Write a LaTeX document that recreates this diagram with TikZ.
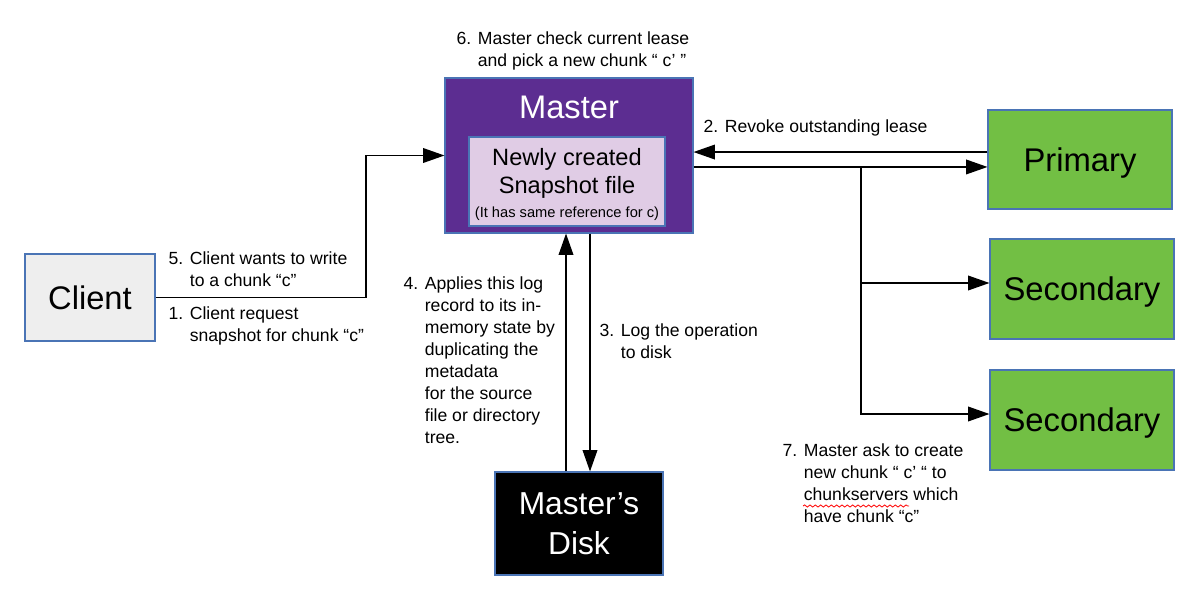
\documentclass[tikz,border=0pt]{standalone}
\usepackage{fontspec}
\setmainfont{Liberation Sans}
\usetikzlibrary{arrows.meta,decorations.pathmorphing}
\definecolor{masterpurple}{HTML}{5C2D91}
\definecolor{snaplilac}{HTML}{E0CCE5}
\definecolor{chunkgreen}{HTML}{72BF44}
\definecolor{clientgrey}{HTML}{EEEEEE}
\definecolor{edgeblue}{HTML}{4A74B5}
\begin{document}
\begin{tikzpicture}[x=0.75pt, y=-0.75pt, line width=1pt, >={Triangle[length=16pt,width=11pt]},
  box/.style={rectangle,draw=edgeblue,line width=0.8pt,inner sep=0pt},
  chunk box/.style={box,fill=chunkgreen,minimum width=138pt,minimum height=75pt,font=\fontsize{24.6}{30}\selectfont,text height=17.6pt,text depth=0pt},
  step text/.style={inner sep=0pt,anchor=north west,align=left,font=\fontsize{13.2}{16.5}\selectfont}]
\useasboundingbox (0,0) rectangle (1200,600);
\begin{scope}
\node[box,fill=masterpurple,minimum width=186pt,minimum height=116.25pt] (master) at (569,155.5) {};
\node[text=white,font=\fontsize{24.5}{30}\selectfont] (mastertitle) at (569,107) {Master};
\node[box,fill=snaplilac,minimum width=147pt,minimum height=66.75pt,align=center,font=\fontsize{17.7}{21}\selectfont] (snapshot) at (567,181.5) {\rule{0pt}{18pt}Newly created\\Snapshot file\\[-3pt]{\fontsize{11}{13}\selectfont(It has same reference for c)}};
\node[box,fill=clientgrey,minimum width=97.5pt,minimum height=65.25pt,font=\fontsize{24.5}{30}\selectfont,text height=17.5pt,text depth=0pt] (client) at (90,297.5) {Client};
\node[chunk box,minimum height=74.25pt] (primary) at (1080,159.5) {Primary};
\node[chunk box] (sec1) at (1082,289) {Secondary};
\node[chunk box] (sec2) at (1082,420) {Secondary};
\node[box,fill=black,text=white,minimum width=126pt,minimum height=77.25pt,align=center,font=\fontsize{23.8}{30}\selectfont] (disk) at (579,523.5) {Master’s\\Disk};
%\node[chunk box] (v) at (,) {};
\end{scope}
\begin{scope}[every node/.style={step text}]
\node (step6) at (456,31) {6. Master check current lease\\\hphantom{6. }and pick a new chunk “ c’ ”};
\node (step2) at (703,119) {2. Revoke outstanding lease};
\node (step5) at (168,251) {5. Client wants to write\\\hphantom{5. }to a chunk “c”};
\node (step1) at (168,306) {1. Client request\\\hphantom{1. }snapshot for chunk “c”};
\node (step4) at (403,276) {4. Applies this log\\\hphantom{4. }record to its in-\\\hphantom{4. }memory state by\\\hphantom{4. }duplicating the\\\hphantom{4. }metadata\\\hphantom{4. }for the source\\\hphantom{4. }file or directory\\\hphantom{4. }tree.};
\node (step3) at (599,323) {3. Log the operation\\\hphantom{3. }to disk};
\node (step7) at (782,443) {7. Master ask to create\\\hphantom{7. }new chunk “ c’ “ to\\\hphantom{7. }chunkservers which\\\hphantom{7. }have chunk “c”};
\end{scope}
\begin{scope}
\coordinate (clientbend) at (366,297.5);
\coordinate (revoke) at ([yshift=5.6pt]primary.west);
\coordinate (ask) at ([yshift=-5.6pt]primary.west);
\coordinate (split) at (861,167);
\coordinate (up) at ([xshift=-9.75pt]disk.north);
\coordinate (down) at ([xshift=8.25pt]disk.north);
\draw[->] (client.east) -- (clientbend) |- (master.west);
\draw[->] (revoke) -- (revoke -| master.east);
\draw[->] (ask -| master.east) -- (ask);
\draw[->] (split) |- ([yshift=4.5pt]sec1.west);
\draw[->] (split) |- ([yshift=4.5pt]sec2.west);
\draw[->] (up) -- (up |- master.south);
\draw[->] (down |- master.south) -- (down);
%\draw[->] (v) -- (v);
\end{scope}
\draw[red,line width=0.6pt,decorate,decoration={snake,amplitude=0.8pt,segment length=4pt}] (803,506) -- (909,506);
\end{tikzpicture}
\end{document}
